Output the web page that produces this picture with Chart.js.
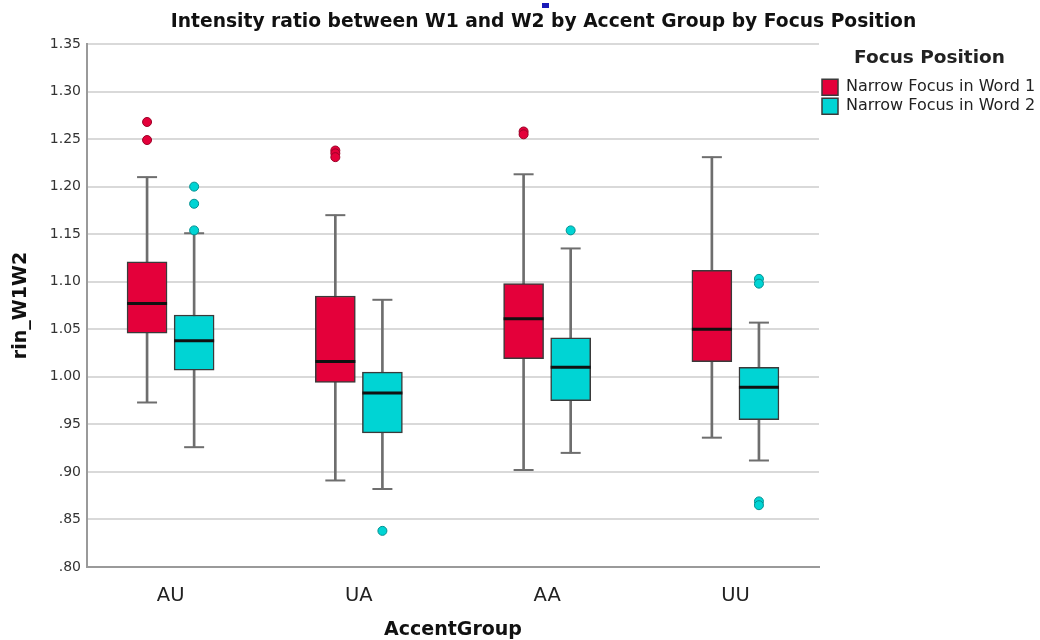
<!DOCTYPE html>
<html>
<head>
<meta charset="utf-8">
<title>Intensity ratio between W1 and W2</title>
<script src="https://cdn.jsdelivr.net/npm/chart.js@4.4.1/dist/chart.umd.min.js"></script>
<style>
  html, body { margin: 0; padding: 0; background: #fff; }
  #wrap { position: relative; width: 1040px; height: 640px; }
  #marker { position: absolute; left: 542px; top: 3px; width: 7px; height: 5px; background: #1a1ab8; }
</style>
</head>
<body>
<div id="wrap">
  <canvas id="chart" width="1040" height="640"></canvas>
  <div id="marker"></div>
</div>
<script>
// --- Data ---
const categories = ['AU', 'UA', 'AA', 'UU'];
const seriesNames = ['Narrow Focus in Word 1', 'Narrow Focus in Word 2'];
const yTickValues = [0.80, 0.85, 0.90, 0.95, 1.00, 1.05, 1.10, 1.15, 1.20, 1.25, 1.30, 1.35];

// Narrow Focus in Word 1
const w1Min = [0.973, 0.891, 0.902, 0.936];
const w1Q1 = [1.046, 0.994, 1.019, 1.016];
const w1Median = [1.077, 1.016, 1.061, 1.050];
const w1Q3 = [1.121, 1.085, 1.098, 1.112];
const w1Max = [1.210, 1.170, 1.213, 1.231];
const w1Outliers = [[1.268, 1.249], [1.238, 1.235, 1.231], [1.258, 1.255], []];

// Narrow Focus in Word 2
const w2Min = [0.926, 0.882, 0.920, 0.912];
const w2Q1 = [1.007, 0.941, 0.975, 0.955];
const w2Median = [1.038, 0.983, 1.010, 0.989];
const w2Q3 = [1.065, 1.005, 1.041, 1.010];
const w2Max = [1.151, 1.081, 1.135, 1.057];
const w2Outliers = [[1.200, 1.182, 1.154], [0.838], [1.154], [1.103, 1.098, 0.869, 0.865]];

// --- Styles ---
const titleText = 'Intensity ratio between W1 and W2 by Accent Group by Focus Position';
const boxColors = ['#e4003a', '#00d4d4'];
const outlierEdges = ['#9a0027', '#008f8f'];
const groupOffsets = [-0.125, 0.125];
const whiskerColor = '#6e6e6e';
const fontFamily = '"DejaVu Sans", Verdana, sans-serif';

const series = [
    { name: seriesNames[0], min: w1Min, q1: w1Q1, med: w1Median, q3: w1Q3, max: w1Max, out: w1Outliers },
    { name: seriesNames[1], min: w2Min, q1: w2Q1, med: w2Median, q3: w2Q3, max: w2Max, out: w2Outliers }
];

const datasets = [];
series.forEach((s, k) => {
    const xs = categories.map((c, i) => i + groupOffsets[k]);
    // box (Q1..Q3)
    datasets.push({
        type: 'bar', label: s.name, isBox: true, order: 2,
        data: xs.map((x, i) => ({ x: x, y: [s.q1[i], s.q3[i]] })),
        backgroundColor: boxColors[k], borderColor: '#3a3a3a', borderWidth: 1.5,
        borderSkipped: false, barThickness: 40, grouped: false
    });
    // whisker (min..max), drawn behind the box
    datasets.push({
        type: 'bar', label: s.name + ' whisker', order: 3,
        data: xs.map((x, i) => ({ x: x, y: [s.min[i], s.max[i]] })),
        backgroundColor: whiskerColor, borderWidth: 0, barThickness: 2, grouped: false
    });
    // whisker caps
    datasets.push({
        type: 'scatter', label: s.name + ' caps', order: 1,
        data: xs.flatMap((x, i) => [{ x: x, y: s.min[i] }, { x: x, y: s.max[i] }]),
        pointStyle: 'line', pointRadius: 10, pointBorderColor: whiskerColor, pointBorderWidth: 2
    });
    // medians
    datasets.push({
        type: 'scatter', label: s.name + ' median', order: 1,
        data: xs.map((x, i) => ({ x: x, y: s.med[i] })),
        pointStyle: 'line', pointRadius: 20, pointBorderColor: '#111', pointBorderWidth: 3
    });
    // outliers
    datasets.push({
        type: 'scatter', label: s.name + ' outliers', order: 0,
        data: xs.flatMap((x, i) => s.out[i].map(v => ({ x: x, y: v }))),
        pointStyle: 'circle', pointRadius: 4.5,
        pointBackgroundColor: boxColors[k], pointBorderColor: outlierEdges[k], pointBorderWidth: 1
    });
});

// chart title sits a bit right of centre, as in the SPSS output
const topTitle = {
    id: 'topTitle',
    afterDraw(chart) {
        const ctx = chart.ctx;
        ctx.save();
        ctx.font = 'bold 18.7px ' + fontFamily;
        ctx.fillStyle = '#111';
        ctx.textAlign = 'center';
        ctx.textBaseline = 'middle';
        ctx.fillText(titleText, 543.5, 22);
        ctx.restore();
    }
};

new Chart(document.getElementById('chart'), {
    type: 'bar',
    data: { datasets: datasets },
    plugins: [topTitle],
    options: {
        responsive: false,
        animation: false,
        events: [],
        layout: { padding: { top: 44, left: 0, right: 0, bottom: 0 } },
        plugins: {
            title: { display: false },
            tooltip: { enabled: false },
            legend: {
                position: 'right',
                align: 'start',
                maxWidth: 221,
                title: {
                    display: true, text: 'Focus Position', color: '#222',
                    font: { family: fontFamily, size: 18.5, weight: 'bold' },
                    padding: { top: 5, bottom: 5 }
                },
                labels: {
                    boxWidth: 16, boxHeight: 16, padding: 3, color: '#222',
                    font: { family: fontFamily, size: 16 },
                    filter: (item, data) => data.datasets[item.datasetIndex].isBox === true
                }
            }
        },
        scales: {
            x: {
                type: 'linear', min: -0.444, max: 3.444, offset: false,
                grid: { display: false, offset: false },
                border: { display: true, color: '#9a9a9a', width: 2 },
                afterBuildTicks: (scale) => { scale.ticks = categories.map((c, i) => ({ value: i })); },
                afterFit: (scale) => { scale.height = 73; scale.paddingLeft = 0; scale.paddingRight = 0; },
                ticks: {
                    padding: 9, color: '#222', maxRotation: 0,
                    font: { family: fontFamily, size: 19.5 },
                    callback: (v) => categories[v]
                },
                title: {
                    display: true, text: 'AccentGroup', color: '#111',
                    font: { family: fontFamily, size: 19, weight: 'bold', lineHeight: 1 },
                    padding: { top: 0, bottom: 0 }
                }
            },
            y: {
                min: 0.80, max: 1.35, beginAtZero: false,
                grid: { color: '#d9d9d9', lineWidth: 2, drawTicks: false },
                border: { display: true, color: '#9a9a9a', width: 2 },
                afterBuildTicks: (scale) => { scale.ticks = yTickValues.map(v => ({ value: v })); },
                afterFit: (scale) => { scale.width = 87; scale.paddingTop = 0; scale.paddingBottom = 0; },
                ticks: {
                    padding: 6, color: '#333',
                    font: { family: fontFamily, size: 14 },
                    callback: (v) => v >= 1 ? v.toFixed(2) : v.toFixed(2).slice(1)
                },
                title: {
                    display: true, text: 'rin_W1W2', color: '#111',
                    font: { family: fontFamily, size: 19, weight: 'bold' },
                    padding: { top: 10, bottom: 0 }
                }
            }
        }
    }
});
</script>
</body>
</html>
